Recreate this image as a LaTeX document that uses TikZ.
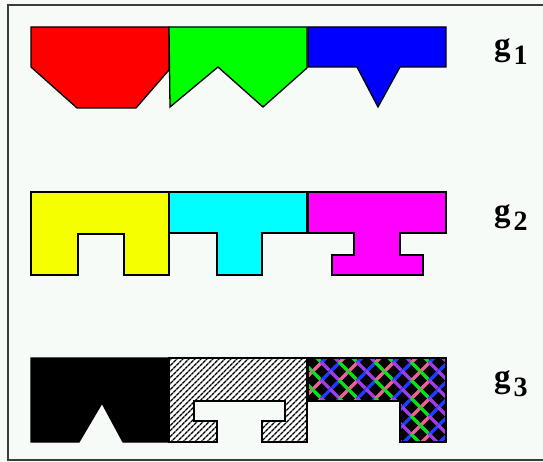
\documentclass[tikz,border=0pt]{standalone}
\usepackage{fontspec}
\setmainfont{Liberation Serif}
\usetikzlibrary{patterns.meta}

\definecolor{bgcol}{RGB}{246,251,248}
\definecolor{frame}{RGB}{60,60,60}
\definecolor{wpink}{RGB}{240,96,150}
\definecolor{wgreen}{RGB}{0,230,20}
\definecolor{wblue}{RGB}{30,60,255}
\definecolor{wpurple}{RGB}{160,60,230}
\definecolor{lred}{RGB}{255,0,0}
\definecolor{lgreen}{RGB}{0,255,0}
\definecolor{lblue}{RGB}{0,0,255}
\definecolor{lyellow}{RGB}{245,255,0}
\definecolor{lcyan}{RGB}{0,255,255}
\definecolor{lmagenta}{RGB}{255,0,255}

\tikzset{
	piece/.style={draw=black, line width=1.3pt, line join=miter},
	glabel/.style={anchor=base west, inner sep=0pt, font=\bfseries}
}
\newcommand{\gname}[1]{{\fontsize{33}{33}\selectfont g}\hspace{3pt}\raisebox{-9pt}{\fontsize{28}{28}\selectfont #1}}

\begin{document}
\begin{tikzpicture}[x=1pt, y=-1pt]
		\useasboundingbox (0,0) rectangle (543,462);
		\fill[bgcol] (0,0) rectangle (543,462);
		\draw[frame, line width=2pt] (543,5) -- (8,5) -- (8,460) -- (543,460);

		% row 1
		\draw[piece, fill=lred] (31,27) -- (169,27) -- (169,70) -- (136,108) -- (77,108) -- (31,67) -- cycle;
		\draw[piece, fill=lgreen] (169,27) -- (307,27) -- (307,68) -- (263,107) -- (218,67) -- (170,107) -- cycle;
		\draw[piece, fill=lblue] (308,27) -- (446,27) -- (446,67) -- (400,67) -- (378,107) -- (357,67) -- (308,67) -- cycle;

		% row 2
		\draw[piece, fill=lyellow] (31,192) -- (169,192) -- (169,275) -- (124,275) -- (124,234) -- (78,234) -- (78,275) -- (31,275) -- cycle;
		\draw[piece, fill=lcyan] (169,192) -- (307,192) -- (307,233) -- (262,233) -- (262,275) -- (217,275) -- (217,233) -- (169,233) -- cycle;
		\draw[piece, fill=lmagenta] (308,192) -- (446,192) -- (446,233) -- (400,233) -- (400,255) -- (423,255) -- (423,275) -- (332,275) -- (332,255) -- (354,255) -- (354,233) -- (308,233) -- cycle;

		% row 3
		\draw[piece, fill=black] (31,358) -- (169,358) -- (169,442) -- (123,442) -- (102,403) -- (79,442) -- (31,442) -- cycle;
		\draw[piece, fill=white, postaction={pattern={Lines[angle=45, distance=4pt, line width=1.5pt]}}]
			(169,358) -- (307,358) -- (307,442) -- (262,442) -- (262,421) -- (285,421) -- (285,401) -- (194,401) -- (194,421) -- (217,421) -- (217,442) -- (169,442) -- cycle;
		\fill[black] (308,358) -- (446,358) -- (446,442) -- (400,442) -- (400,401) -- (308,401) -- cycle;
		\begin{scope}
			\clip (308,358) -- (446,358) -- (446,442) -- (400,442) -- (400,401) -- (308,401) -- cycle;
			\foreach \i in {0,...,16} {
				\foreach \j in {0,...,10} {
					\pgfmathsetmacro{\cx}{308+\i*9}
					\pgfmathsetmacro{\cy}{358+\j*9}
					\pgfmathtruncatemacro{\wpar}{mod(\i+\j,2)}
					\pgfmathtruncatemacro{\walt}{mod(\i,4)}
					\ifnum\wpar=0
						\ifnum\walt<2 \def\wc{wpink}\else\def\wc{wblue}\fi
						\draw[\wc, line width=3.5pt] (\cx-5,\cy+5) -- (\cx+5,\cy-5);
					\else
						\ifnum\walt<2 \def\wc{wgreen}\else\def\wc{wpurple}\fi
						\draw[\wc, line width=3.5pt] (\cx-5,\cy-5) -- (\cx+5,\cy+5);
					\fi
				}
			}
		\end{scope}
		\draw[piece] (308,358) -- (446,358) -- (446,442) -- (400,442) -- (400,401) -- (308,401) -- cycle;

		% labels
		\node[glabel] (g1) at (494,56) {\gname{1}};
		\node[glabel] (g2) at (494,222) {\gname{2}};
		\node[glabel] (g3) at (494,387) {\gname{3}};
	\end{tikzpicture}
\end{document}
